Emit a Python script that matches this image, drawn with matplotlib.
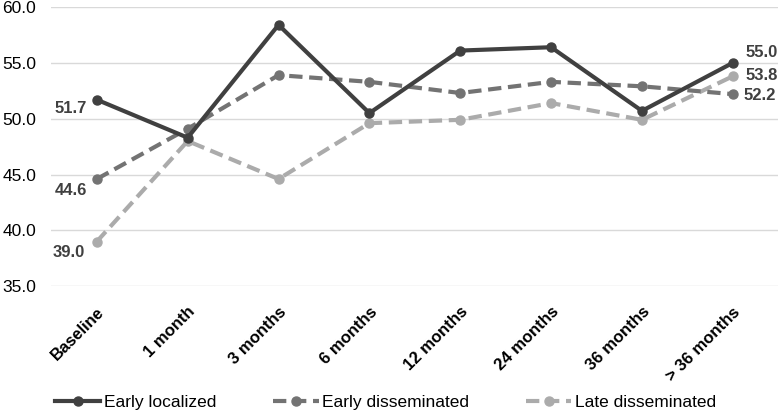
import matplotlib
matplotlib.use("Agg")
import matplotlib.pyplot as plt

plt.rcParams["font.family"] = ["Liberation Sans", "DejaVu Sans"]

categories = ["Baseline", "1 month", "3 months", "6 months", "12 months",
              "24 months", "36 months", "> 36 months"]
early_localized = [51.7, 48.3, 58.4, 50.5, 56.1, 56.4, 50.7, 55.0]
early_disseminated = [44.6, 49.1, 53.9, 53.3, 52.3, 53.3, 52.9, 52.2]
late_disseminated = [39.0, 48.0, 44.6, 49.6, 49.9, 51.4, 49.9, 53.8]

fig = plt.figure(figsize=(7.79, 4.13), dpi=100)
ax = fig.add_axes([0.066, 0.307, 0.933, 0.676])

x = list(range(len(categories)))
ax.plot(x, early_localized, color="#404040", lw=3, marker="o", ms=6.5,
        label="Early localized", zorder=4)
ax.plot(x, early_disseminated, color="#737373", lw=3, ls=(0, (3.2, 1.6)),
        marker="o", ms=6.5, label="Early disseminated", zorder=3)
ax.plot(x, late_disseminated, color="#ababab", lw=3, ls=(0, (3.2, 1.6)),
        marker="o", ms=6.5, label="Late disseminated", zorder=2)

lab = dict(fontsize=12, fontweight="bold", color="#404040",
           textcoords="offset points", va="center")
ax.annotate(f"{early_localized[0]:.1f}", (x[0], early_localized[0]),
            xytext=(-7, -6.5), ha="right", **lab)
ax.annotate(f"{early_disseminated[0]:.1f}", (x[0], early_disseminated[0]),
            xytext=(-7, -8), ha="right", **lab)
ax.annotate(f"{late_disseminated[0]:.1f}", (x[0], late_disseminated[0]),
            xytext=(-8.5, -8), ha="right", **lab)
ax.annotate(f"{early_localized[-1]:.1f}", (x[-1], early_localized[-1]),
            xytext=(9.4, 7.2), ha="left", **lab)
ax.annotate(f"{late_disseminated[-1]:.1f}", (x[-1], late_disseminated[-1]),
            xytext=(9.4, 0.7), ha="left", **lab)
ax.annotate(f"{early_disseminated[-1]:.1f}", (x[-1], early_disseminated[-1]),
            xytext=(7.9, -0.7), ha="left", **lab)

ax.set_xlim(-0.5, len(categories) - 0.5)
ax.set_ylim(35, 60)
ax.set_yticks([35, 40, 45, 50, 55, 60])
ax.set_yticklabels([f"{v:.1f}" for v in [35, 40, 45, 50, 55, 60]], fontsize=12.5)
ax.set_xticks(x)
ax.set_xticklabels(categories, rotation=45, ha="right", rotation_mode="anchor",
                   fontsize=12, fontweight="bold")
ax.tick_params(length=0)
ax.tick_params(axis="y", pad=11)
ax.tick_params(axis="x", pad=13)
ax.grid(axis="y", color="#d9d9d9", lw=1)
ax.set_axisbelow(True)
for s in ax.spines.values():
    s.set_visible(False)

fig.legend(loc="lower center", bbox_to_anchor=(0.495, -0.03), ncol=3,
           frameon=False, fontsize=12.5, columnspacing=3.3, handlelength=2.6,
           handletextpad=0.2)

fig.savefig("out.png", dpi=100)
